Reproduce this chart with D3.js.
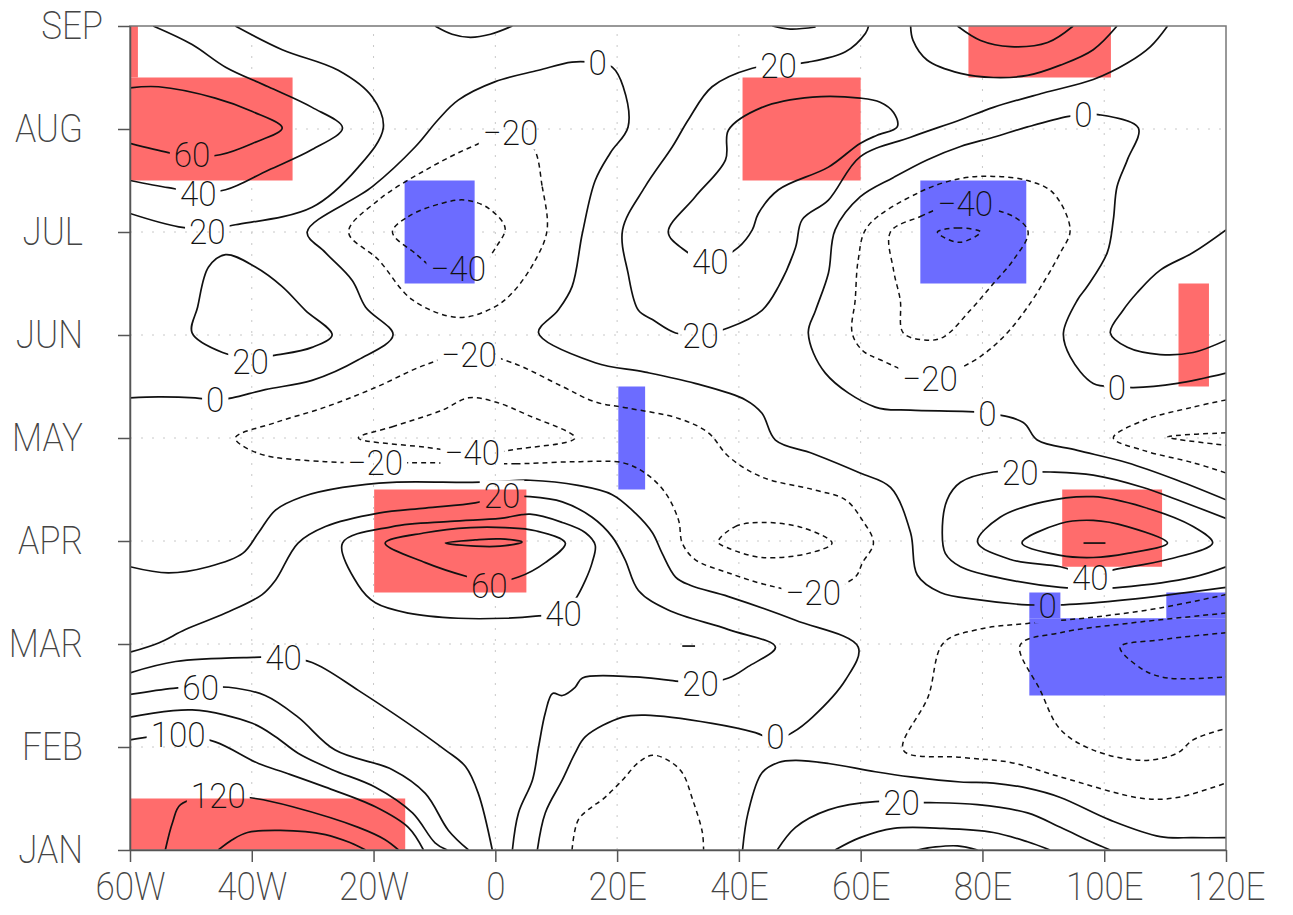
<!DOCTYPE html>
<html>
<head>
<meta charset="utf-8">
<title>Hovmoller</title>
<script src="https://d3js.org/d3.v7.min.js"></script>
<style>
body { margin: 0; background: #fff; }
text { font-family: Roboto, "DejaVu Sans", sans-serif; font-weight: 200; }
</style>
</head>
<body>
<div id="chart"></div>
<script>
const width = 1293, height = 915;

// axes
const lonTicks = [-60, -40, -20, 0, 20, 40, 60, 80, 100, 120];
const lonLabels = ["60W", "40W", "20W", "0", "20E", "40E", "60E", "80E", "100E", "120E"];
const monthTicks = [0, 1, 2, 3, 4, 5, 6, 7, 8];
const monthLabels = ["JAN", "FEB", "MAR", "APR", "MAY", "JUN", "JUL", "AUG", "SEP"];

// shaded cells [lon0, lon1, m0, m1]
const redCells = [[-60, -33.3, 6.5, 7.5], [-60, -58.7, 7.5, 8], [40.6, 60, 6.5, 7.5], [77.7, 101.1, 7.5, 8],
  [112.2, 117.2, 4.5, 5.5], [-19.9, 5.1, 2.5, 3.5], [93.1, 109.5, 2.75, 3.5], [-60, -14.8, 0, 0.5]];
const blueCells = [[-14.9, -3.4, 5.5, 6.5], [69.8, 87.2, 5.5, 6.5], [20.2, 24.6, 3.5, 4.5],
  [87.7, 120, 1.5, 2.25], [87.7, 92.8, 2.25, 2.5], [110.2, 120, 2.25, 2.5]];

// contour lines [lon, month]
const c60_augW = [[-60,7.40],[-55.3,7.41],[-46,7.30],[-39.9,7.17],[-35,7.01],[-39.9,6.86],[-45.2,6.75],[-49.8,6.73],[-53.7,6.77],[-60,6.86]];
const c40_augW = [[-56.2,8.0],[-49.8,7.82],[-44.3,7.60],[-37.3,7.41],[-30.1,7.21],[-25.1,7.01],[-30.1,6.80],[-37.3,6.60],[-44.3,6.41],[-48.9,6.39],[-53.7,6.43],[-60,6.50]];
const c20_augW = [[-42.7,8.0],[-35,7.77],[-25.8,7.57],[-20.2,7.31],[-18.4,7.01],[-22.5,6.63],[-30.1,6.24],[-42.7,6.07],[-47,6.03],[-52,6.05],[-60,6.18]];
const c0_topArc = [[-9.9,8.0],[-7.1,7.92],[-4.1,7.89],[-0.8,7.92],[2.8,8.0]];
const c0_main = [[-60,4.39],[-55.3,4.40],[-49.3,4.39],[-46,4.37],[-43.2,4.39],[-37.8,4.47],[-30.1,4.56],[-22.5,4.76],[-16.8,5.0],
  [-21.3,5.27],[-23.5,5.53],[-27.9,5.80],[-30.9,6.0],[-20.2,6.44],[-13.1,6.83],[-9.4,7.09],[-6.1,7.28],[0,7.46],[7.1,7.57],
  [12.6,7.65],[16.8,7.64],[19.2,7.60],[21,7.41],[21.8,7.02],[18.9,6.77],[16.4,6.50],[14.3,5.99],[12.6,5.47],[10.3,5.24],
  [7.1,5.02],[16.4,4.73],[24.6,4.64],[32.8,4.53],[41.1,4.37],[43.8,4.24],[46,3.98],[52.1,3.85],[59.9,3.66],[64.9,3.52],
  [68.2,3.08],[69.3,2.67],[73.1,2.50],[79.2,2.43],[87.4,2.38],[90.3,2.38],[93.3,2.38],[103.8,2.43],[120,2.55]];
const c20_junW = [[-49.8,5.02],[-48.9,5.27],[-47.1,5.66],[-44.3,5.78],[-39.4,5.66],[-35,5.47],[-31.2,5.24],[-26.8,5.0],[-30.1,4.88],[-35.6,4.81],[-40.2,4.78],[-44.8,4.83]];
const cm20_julW = [[6.1,6.83],[7.7,6.44],[8.5,6.02],[6.6,5.73],[2.8,5.41],[-0.5,5.26],[-6.1,5.17],[-13.6,5.34],[-19.2,5.73],[-24.1,6.0],[-19.2,6.31],[-11.5,6.60],[-3.8,6.83],[2,6.95]];
const cm40_julW = [[-16.9,6.0],[-14.3,6.15],[-8.7,6.28],[-4.9,6.31],[-1.1,6.23],[1.6,6.04],[0.3,5.87],[-2.8,5.65],[-7.9,5.57],[-13.1,5.79]];
const cm20_may = [[-12,3.76],[3.3,3.75],[13.6,3.77],[20.9,3.76],[24.6,3.66],[27.9,3.47],[30.1,3.20],[30.7,2.98],[32.8,2.82],[38.3,2.69],
  [44.8,2.57],[52.6,2.50],[59.1,2.65],[60.3,2.79],[62.1,2.98],[60.3,3.20],[57.5,3.40],[52.1,3.50],[43.8,3.62],[38.3,3.82],[35,4.05],
  [30.1,4.19],[21.8,4.29],[16.4,4.35],[11,4.50],[2.8,4.73],[-4.1,4.83],[-11.5,4.71],[-19.7,4.49],[-27.9,4.30],[-36.1,4.15],
  [-42.7,4.0],[-38.9,3.85],[-27.9,3.77],[-19.7,3.76]];
const cm40_may = [[-22.5,4.0],[-16.9,4.11],[-8.7,4.27],[-4.4,4.39],[0,4.35],[5.4,4.22],[13.1,4.0],[3.3,3.89],[0,3.86],[-3.3,3.85],[-11.5,3.91]];
const cm20_aprC = [[36.6,2.99],[39.4,3.14],[43.8,3.18],[50.4,3.13],[55.3,2.98],[51.4,2.88],[43.8,2.84],[38.3,2.93]];
const c0_low = [[-60,2.75],[-53.7,2.69],[-47.1,2.75],[-41.5,2.88],[-38.9,3.08],[-36.1,3.30],[-31.7,3.43],[-25.1,3.52],[-16.9,3.57],
  [-3.8,3.57],[0.8,3.58],[5.7,3.59],[13.6,3.54],[19.2,3.45],[23,3.27],[25.8,3.08],[27.4,2.88],[29.6,2.65],[32,2.57],[38.3,2.46],
  [49.3,2.23],[59.6,1.97],[57.5,1.65],[52.1,1.29],[48.8,1.14],[46,1.07],[42.7,1.14],[35.6,1.23],[24.6,1.31],[20.9,1.29],
  [14.8,1.10],[13.1,0.94],[11,0.68],[8.2,0.36],[6.9,0]];
const c20_low = [[-60,1.92],[-55.3,2.01],[-50.9,2.14],[-44.3,2.30],[-38.3,2.48],[-36.1,2.62],[-32.4,2.98],[-27.9,3.14],[-19.2,3.27],
  [-11.5,3.32],[-3.3,3.37],[0.8,3.43],[5.7,3.43],[11,3.38],[15.9,3.23],[19.2,3.04],[21.3,2.82],[23.5,2.52],[28.4,2.33],[38.3,2.14],
  [46,1.97],[41.5,1.78],[38.3,1.67],[33.7,1.62],[28.4,1.65],[23,1.68],[14.3,1.67],[13.1,1.58],[11,1.50],[9.4,1.52],[8.2,1.33],
  [7.1,1.0],[6.1,0.68],[3.8,0.36],[2.8,0]];
const c40_apr = [[-25.1,2.98],[-16.9,3.14],[-7.4,3.19],[0.8,3.22],[5.7,3.26],[11,3.18],[14.8,3.08],[16.4,2.96],[15.9,2.79],[14.8,2.62],
  [13.1,2.43],[11.2,2.31],[6.6,2.27],[1.6,2.25],[-6.1,2.25],[-14.3,2.30],[-19.7,2.40],[-22.5,2.57]];
const c60_apr = [[-18.1,2.98],[-11.5,3.08],[-4.1,3.13],[1.6,3.13],[6.6,3.10],[11.5,2.98],[8.2,2.79],[3.8,2.65],[-0.8,2.60],[-4.4,2.65],[-11.5,2.79]];
const c80_apr = [[-8.2,2.98],[-3.3,3.01],[0.8,3.02],[4.4,2.99],[0.8,2.95],[-3.3,2.95]];
const c40_jan = [[-60,1.72],[-52.5,1.83],[-39.7,1.87],[-34.8,1.87],[-30.1,1.82],[-22.5,1.55],[-8.2,0.97],[-4.9,0.81],[-2.8,0.55],[-0.5,0]];
const c60_jan = [[-60,1.51],[-52.9,1.57],[-48.3,1.58],[-43.8,1.58],[-37.8,1.50],[-32.4,1.29],[-26.3,0.97],[-16.9,0.78],[-11.5,0.55],[-7.7,0.19],[-4.4,0]];
const c80_jan = [[-60,1.29],[-49.8,1.36],[-39.9,1.23],[-36.1,1.10],[-32.4,0.94],[-26.8,0.78],[-19.7,0.61],[-13.6,0.36],[-9.9,0.07],[-7.9,0]];
const c100_jan = [[-60,1.07],[-52.1,1.12],[-46,1.05],[-38.9,0.84],[-34.5,0.75],[-27.9,0.61],[-19.7,0.42],[-14.3,0.22],[-11.8,0]];
const c120_jan = [[-54.2,0],[-53,0.27],[-51.7,0.44],[-45.5,0.53],[-39.4,0.50],[-33.3,0.42],[-22.5,0.22],[-18.1,0.10],[-15.9,0]];
const c140_jan = [[-45.5,0],[-43.2,0.10],[-40.7,0.17],[-35.3,0.19],[-27.9,0.15],[-23.8,0.07],[-21.3,0]];
const cm20_janE = [[12.6,0],[13.6,0.29],[15.9,0.42],[17.6,0.49],[20.9,0.68],[23.5,0.85],[25.8,0.92],[28.4,0.87],[30.7,0.75],[32.4,0.49],[34,0.17],[34.2,0]];
const c0_janE = [[40.6,0],[41.5,0.36],[43.8,0.75],[46.5,0.85],[49.3,0.87],[54.7,0.84],[62.4,0.76],[68.2,0.71],[76.4,0.66],[81.8,0.65],
  [87.4,0.60],[92.8,0.51],[101,0.29],[109.2,0.13],[114.6,0.12],[120,0.12]];
const c20_janE = [[46.3,0],[49.3,0.22],[54.7,0.39],[62.4,0.47],[66.7,0.46],[71.4,0.46],[79.2,0.44],[87.4,0.36],[92.8,0.22],[98.2,0.07],[101,0]];
const c40_janE = [[55.8,0],[59.9,0.12],[65.4,0.21],[73.6,0.21],[81.8,0.17],[87.4,0.08],[91.1,0]];
const c60_janE = [[69.3,0],[72.3,0.03],[75.9,0.04],[79.2,0]];
const cm20_marE = [[120,2.48],[109.2,2.35],[98.2,2.26],[87.4,2.20],[79.2,2.14],[73.6,2.01],[71.1,1.49],[67,0.97],[76.4,0.90],[84.6,0.85],[92.8,0.71],[106.4,0.50],[112,0.51],[120,0.65]];
const cm40_marE = [[120,2.30],[103.8,2.20],[92.8,2.11],[86.2,1.99],[89.5,1.55],[92.8,1.17],[98.2,0.97],[106.4,0.87],[112,0.94],[114.6,1.07],[120,1.18]];
const cm60_marE = [[120,2.11],[109.2,2.04],[102.6,1.97],[106.4,1.75],[110.4,1.67],[120,1.68]];
const c0_east = [[120,4.63],[112,4.53],[104.8,4.49],[102.1,4.50],[98.2,4.53],[94.4,4.79],[93.3,5.02],[95.6,5.34],[97.2,5.47],[100.5,5.80],
  [101.5,6.12],[102.1,6.44],[103.8,6.70],[105.6,7.01],[99,7.14],[96.6,7.14],[93.9,7.12],[87.4,7.02],[81.8,6.92],[76.4,6.83],[70.9,6.70],
  [65.4,6.53],[59.9,6.34],[55.8,6.02],[54.7,5.60],[52.6,5.24],[51.4,5.02],[54.2,4.63],[62.4,4.30],[68.2,4.27],[80.8,4.24],[86.7,4.15],
  [89,3.98],[95.6,3.88],[103.8,3.76],[112,3.59],[120,3.40]];
const c20_aprE = [[120,3.22],[112,3.40],[106.4,3.52],[98.2,3.64],[91.1,3.67],[86.2,3.67],[81.8,3.67],[76.4,3.57],[74.2,3.40],[73.4,3.08],
  [73.9,2.88],[76.4,2.75],[84.6,2.62],[92.8,2.55],[98.5,2.54],[102.6,2.55],[114.6,2.65],[120,2.75]];
const c40_aprE = [[79.2,2.99],[82.9,3.23],[90,3.38],[98.2,3.43],[106.4,3.33],[114.6,3.14],[117.8,2.98],[110.4,2.82],[101.5,2.72],[97.7,2.67],[92.8,2.75],[84.6,2.82]];
const c60_aprE = [[86.5,2.98],[92.8,3.17],[98.2,3.20],[103.8,3.14],[110.4,2.98],[103.8,2.88],[98.2,2.84],[92.8,2.86]];
const c80_aprE = [[96.6,2.98],[100.2,2.98]];
const c_tinyMar = [[30.7,1.98],[32.8,1.98]];
const cm20_mayE = [[120,4.37],[114.6,4.30],[106.4,4.17],[101.5,4.0],[106.4,3.88],[114.6,3.76],[120,3.66]];
const cm40_mayE = [[120,4.05],[110.4,4.01],[120,3.93]];
const c20_junE = [[120,6.02],[114.6,5.80],[109.2,5.63],[105.4,5.41],[103.1,5.24],[101,5.02],[103.8,4.88],[109.2,4.81],[114.6,4.83],[120,4.95]];
const c20_east = [[61.3,8.0],[60.8,7.93],[57.5,7.75],[51.4,7.65],[46.5,7.62],[42.2,7.59],[35.6,7.41],[31.7,7.09],[29.1,6.83],[24.6,6.44],
  [20.9,6.02],[21.8,5.60],[23.5,5.24],[25.8,5.15],[29.6,5.02],[33.7,5.0],[38.3,5.07],[43.8,5.24],[46.5,5.47],[49.3,5.85],[50.4,6.12],
  [54.7,6.31],[59.9,6.73],[68.2,6.92],[76.4,7.09],[81.8,7.21],[90,7.35],[98.2,7.48],[103.8,7.64],[107.6,7.80],[110.4,8.0]];
const c40_augE = [[28.4,6.0],[32.8,6.34],[37.8,6.70],[38.3,6.99],[43.8,7.21],[52.1,7.31],[59.9,7.30],[63.2,7.26],[65.4,7.16],[66,7.02],
  [62.7,6.94],[59.9,6.86],[54.7,6.63],[46.5,6.41],[43.2,6.18],[42.2,6.02],[39.9,5.85],[35.3,5.71],[30.7,5.84]];
const c40_topE = [[68.2,8.0],[68.6,7.86],[70.9,7.67],[76.4,7.54],[81.8,7.50],[87.4,7.52],[92.8,7.62],[98.2,7.77],[102.1,8.0]];
const c60_topE = [[75.9,8.0],[79.7,7.86],[84.6,7.80],[90.7,7.84],[94.9,8.0]];
const c40_topArc = [[45.5,8.0],[48.4,7.97],[52.6,7.99]];
const cm20_julE = [[63.2,4.76],[71.4,4.59],[78,4.73],[82.9,4.95],[87.4,5.27],[92.8,5.80],[94.4,6.02],[91.6,6.38],[87.4,6.50],[81.8,6.54],
  [76.4,6.52],[69.8,6.39],[61.1,6.05],[59.6,5.73],[59.1,5.34],[58.6,5.02],[60.3,4.85]];
const cm40_julE = [[64.9,6.0],[69.8,6.15],[73.6,6.24],[77.2,6.26],[85.1,6.15],[87.5,6.0],[85.1,5.73],[81.8,5.50],[78,5.24],[73.6,4.98],
  [70.9,4.95],[67,5.02],[66.5,5.34],[65.4,5.63]];
const cm60_julE = [[72.6,6.0],[75.9,6.04],[79.7,6.0],[76.4,5.90],[73.6,5.95]];

// contour labels [text, lon, month]
const contourLabels = [
  ["60", -49.8, 6.75], ["40", -48.8, 6.37], ["20", -47.3, 6.01], ["\u221220", 2.5, 6.97], ["\u221240", -6.1, 5.65],
  ["0", 16.8, 7.65], ["20", 46.5, 7.62], ["40", 35.3, 5.71], ["20", 33.7, 5.0], ["\u221240", 77.2, 6.28],
  ["0", 96.6, 7.14], ["\u221220", 71.4, 4.58], ["0", 102.1, 4.49], ["0", 80.8, 4.24], ["20", 86.2, 3.67],
  ["40", 97.7, 2.65], ["0", 90.7, 2.37], ["\u221220", 52.2, 2.50], ["20", 33.7, 1.62], ["0", 46, 1.10],
  ["20", 66.7, 0.46], ["20", -40.2, 4.74], ["0", -46, 4.37], ["\u221220", -4.3, 4.81], ["\u221220", -19.7, 3.76],
  ["\u221240", -3.8, 3.86], ["20", 1.1, 3.44], ["60", -1, 2.57], ["40", 11.2, 2.30], ["40", -34.8, 1.87],
  ["60", -48.4, 1.58], ["100", -52.1, 1.12], ["120", -45.5, 0.53]
];

const contours = [
  [c60_augW, 60, false], [c40_augW, 40, false], [c20_augW, 20, false], [c0_topArc, 0, false], [c0_main, 0, false],
  [c20_junW, 20, true], [cm20_julW, -20, true], [cm40_julW, -40, true], [cm20_may, -20, true], [cm40_may, -40, true],
  [cm20_aprC, -20, true], [c0_low, 0, false], [c20_low, 20, false], [c40_apr, 40, true], [c60_apr, 60, true], [c80_apr, 80, true],
  [c40_jan, 40, false], [c60_jan, 60, false], [c80_jan, 80, false], [c100_jan, 100, false], [c120_jan, 120, false], [c140_jan, 140, false],
  [cm20_janE, -20, false], [c0_janE, 0, false], [c20_janE, 20, false], [c40_janE, 40, false], [c60_janE, 60, false],
  [cm20_marE, -20, false], [cm40_marE, -40, false], [cm60_marE, -60, false], [c0_east, 0, false], [c20_aprE, 20, false],
  [c40_aprE, 40, true], [c60_aprE, 60, true], [c80_aprE, 80, false], [c_tinyMar, 20, false], [cm20_mayE, -20, false],
  [cm40_mayE, -40, false], [c20_junE, 20, false], [c20_east, 20, false], [c40_augE, 40, true], [c40_topE, 40, false],
  [c60_topE, 60, false], [c40_topArc, 40, false], [cm20_julE, -20, true], [cm40_julE, -40, true], [cm60_julE, -60, true]
];

const x = d3.scaleLinear().domain([-60, 120]).range([130, 1226]);
const y = d3.scaleLinear().domain([0, 8]).range([850, 26]);

const svg = d3.select("#chart").append("svg").attr("width", width).attr("height", height);
const defs = svg.append("defs");
defs.append("clipPath").attr("id", "plotclip").append("rect")
  .attr("x", x(-60)).attr("y", y(8)).attr("width", x(120) - x(-60)).attr("height", y(0) - y(8));

// grid
const grid = svg.append("g").attr("stroke", "#c8c8c8").attr("stroke-width", 1).attr("stroke-dasharray", "2,9");
grid.selectAll(".gx").data(lonTicks.slice(1, -1)).enter().append("line")
  .attr("x1", d => x(d)).attr("x2", d => x(d)).attr("y1", y(0)).attr("y2", y(8));
grid.selectAll(".gy").data(monthTicks.slice(1, -1)).enter().append("line")
  .attr("y1", d => y(d)).attr("y2", d => y(d)).attr("x1", x(-60)).attr("x2", x(120));

// shading
const shade = svg.append("g").attr("clip-path", "url(#plotclip)");
shade.selectAll(".red").data(redCells).enter().append("rect")
  .attr("x", d => x(d[0])).attr("width", d => x(d[1]) - x(d[0]))
  .attr("y", d => y(d[3])).attr("height", d => y(d[2]) - y(d[3])).attr("fill", "#ff6c6c");
shade.selectAll(".blue").data(blueCells).enter().append("rect")
  .attr("x", d => x(d[0])).attr("width", d => x(d[1]) - x(d[0]))
  .attr("y", d => y(d[3])).attr("height", d => y(d[2]) - y(d[3])).attr("fill", "#6c6cff");

function squeeze(sel, k) {
  sel.each(function () {
    const L = this.getComputedTextLength();
    d3.select(this).attr("textLength", L * k).attr("lengthAdjust", "spacingAndGlyphs");
  });
}

// labels first (to measure), masks for line gaps
const labelG = svg.append("g");
const lbl = labelG.selectAll("text").data(contourLabels).enter().append("text")
  .attr("x", d => x(d[1])).attr("y", d => y(d[2]))
  .attr("text-anchor", "middle").attr("dy", "0.36em")
  .attr("font-size", 35).attr("fill", "#111").text(d => d[0]);
squeeze(lbl, 0.95);

const mask = defs.append("mask").attr("id", "lblmask").attr("maskUnits", "userSpaceOnUse")
  .attr("x", 0).attr("y", 0).attr("width", width).attr("height", height);
mask.append("rect").attr("width", width).attr("height", height).attr("fill", "#fff");
lbl.each(function () {
  const b = this.getBBox();
  mask.append("rect").attr("x", b.x - 4).attr("y", b.y + 4).attr("width", b.width + 8).attr("height", b.height - 8).attr("fill", "#000");
});

// contour lines
const lineOpen = d3.line().x(d => x(d[0])).y(d => y(d[1])).curve(d3.curveCatmullRom.alpha(0.5));
const lineClosed = d3.line().x(d => x(d[0])).y(d => y(d[1])).curve(d3.curveCatmullRomClosed.alpha(0.5));
const cg = svg.append("g").attr("clip-path", "url(#plotclip)").append("g").attr("mask", "url(#lblmask)");
cg.selectAll("path").data(contours).enter().append("path")
  .attr("d", d => (d[2] ? lineClosed : lineOpen)(d[0]))
  .attr("fill", "none").attr("stroke", "#111")
  .attr("stroke-width", d => d[1] < 0 ? 1.5 : 1.7)
  .attr("stroke-dasharray", d => d[1] < 0 ? "5,4" : null);
labelG.raise();

// frame
svg.append("rect").attr("x", x(-60)).attr("y", y(8)).attr("width", x(120) - x(-60)).attr("height", y(0) - y(8))
  .attr("fill", "none").attr("stroke", "#777").attr("stroke-width", 1.5);

// axes
const xAxis = d3.axisBottom(x).tickValues(lonTicks).tickFormat((d, i) => lonLabels[i]).tickSize(12).tickPadding(11).tickSizeOuter(0);
const yAxis = d3.axisLeft(y).tickValues(monthTicks).tickFormat((d, i) => monthLabels[i]).tickSize(12).tickPadding(35).tickSizeOuter(0);
const gx = svg.append("g").attr("transform", `translate(0,${y(0)})`).call(xAxis);
const gy = svg.append("g").attr("transform", `translate(${x(-60)},0)`).call(yAxis);
[gx, gy].forEach(g => {
  g.select(".domain").attr("stroke", "#555").attr("stroke-width", 1.5);
  g.selectAll(".tick line").attr("stroke", "#555").attr("stroke-width", 1.5);
  g.selectAll(".tick text").attr("font-size", 38).attr("fill", "#444")
    .attr("font-family", "Roboto, 'DejaVu Sans', sans-serif").attr("font-weight", 200);
});
squeeze(gx.selectAll(".tick text"), 0.92);
squeeze(gy.selectAll(".tick text"), 0.92);
gy.selectAll(".tick text").filter(d => d === 8).attr("dx", 20);
</script>
</body>
</html>
